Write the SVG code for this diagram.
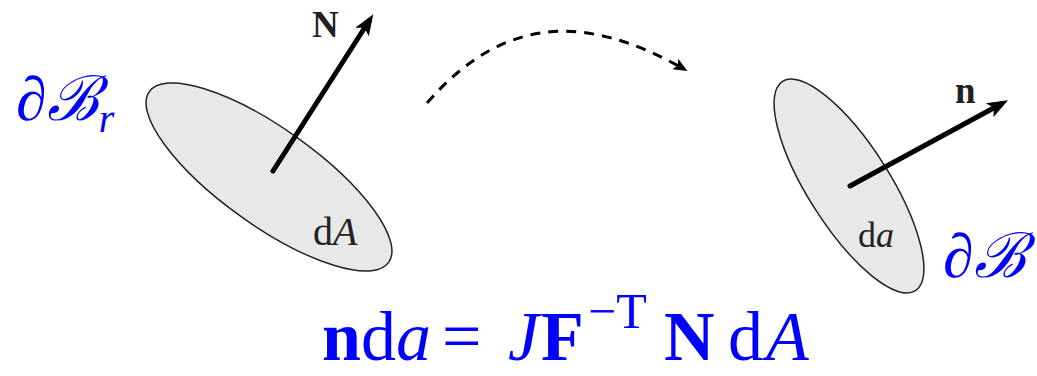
<svg xmlns="http://www.w3.org/2000/svg" width="1037" height="376" viewBox="0 0 1037 376">
  <style>
    .surf { fill: #e8e8e8; stroke: #222; stroke-width: 1.5; }
    .vec { stroke: #000; stroke-width: 5; fill: none; stroke-linecap: round; }
    .lbl { font-family: "Liberation Serif", "DejaVu Serif", serif; fill: #222; }
    .blue { font-family: "Liberation Serif", "DejaVu Serif", serif; fill: #0000ff; }
    .it { font-style: italic; }
    .bf { font-weight: bold; }
    .dash { stroke: #000; stroke-width: 3; fill: none; stroke-dasharray: 10 8; }
  </style>
  <defs>
    <marker id="bigHead" markerUnits="userSpaceOnUse" markerWidth="22" markerHeight="16" refX="13" refY="8" orient="auto" overflow="visible">
      <path d="M21,8 L0,0 L5,8 L0,16 Z" fill="#000"/>
    </marker>
    <marker id="smallHead" markerUnits="userSpaceOnUse" markerWidth="14" markerHeight="12" refX="10" refY="6" orient="auto" overflow="visible">
      <path d="M14,6 L0,0 L3,6 L0,12 Z" fill="#000"/>
    </marker>
  </defs>

  <g id="reference-surface">
    <ellipse class="surf" cx="269" cy="177" rx="147" ry="48.5" transform="rotate(35.5 269 177)"/>
    <line class="vec" x1="273" y1="171" x2="369" y2="21" marker-end="url(#bigHead)"/>
    <text class="lbl bf" x="312" y="37" font-size="37">N</text>
    <text class="lbl" x="313" y="245" font-size="40">d<tspan class="it">A</tspan></text>
    <text class="blue" x="16" y="120" font-size="62"><tspan class="it">∂</tspan><tspan font-family="DejaVu Serif, serif" class="it">ℬ</tspan><tspan class="it" font-size="40" dy="12">r</tspan></text>
  </g>

  <g id="current-surface">
    <ellipse class="surf" cx="849" cy="186" rx="124" ry="41" transform="rotate(57.6 849 186)"/>
    <line class="vec" x1="850" y1="186" x2="1001" y2="104" marker-end="url(#bigHead)"/>
    <text class="lbl bf" x="955" y="103" font-size="37">n</text>
    <text class="lbl" x="858" y="247" font-size="36">d<tspan class="it">a</tspan></text>
    <text class="blue" x="943" y="277" font-size="62"><tspan class="it">∂</tspan><tspan font-family="DejaVu Serif, serif" class="it">ℬ</tspan></text>
  </g>

  <g id="connectors">
    <path class="dash" d="M427,103 C509,8.6 594,18.5 684,69" marker-end="url(#smallHead)"/>
  </g>

  <g id="equation">
    <text class="blue" y="360" font-size="70"><tspan class="bf" x="322">n</tspan><tspan x="361">d</tspan><tspan class="it" x="396">a</tspan><tspan x="442">=</tspan><tspan class="it" x="508">J</tspan><tspan class="bf" x="541">F</tspan><tspan font-size="50" x="588" y="328">−T</tspan><tspan class="bf" x="664" y="360">N</tspan><tspan x="728">d</tspan><tspan class="it" x="766">A</tspan></text>
  </g>
</svg>
